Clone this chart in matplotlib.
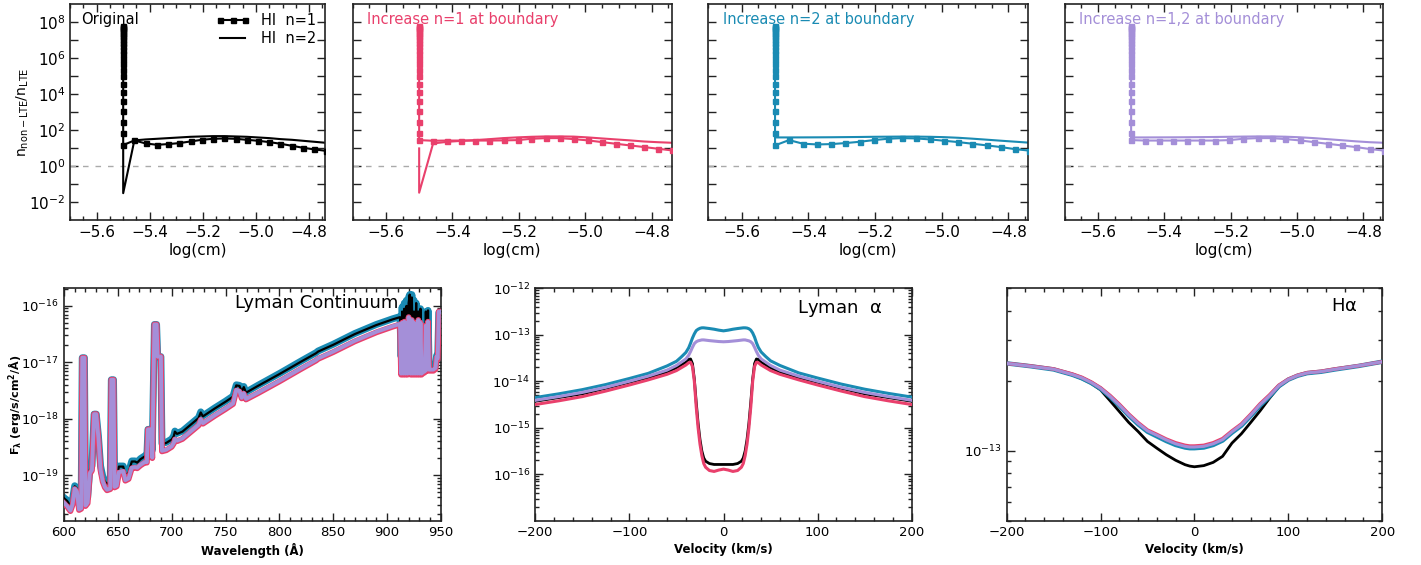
import numpy as np
import matplotlib
matplotlib.use("Agg")
import matplotlib.pyplot as plt
from matplotlib.ticker import FixedLocator, FuncFormatter, MultipleLocator, NullFormatter, LogLocator

plt.rcParams['font.family'] = ['DejaVu Sans']
plt.rcParams['mathtext.default'] = 'regular'

# ---------------- colours ----------------
C_ORIG = '#000000'
C_N1 = '#E9406C'
C_N2 = '#1A8BB3'
C_N12 = '#A48FD8'

# ---------------- top row data: n_nonLTE / n_LTE ----------------
col_depth = -5.5
col_values = [5.9e7, 5.4e7, 4.8e7, 4.0e7, 3.2e7, 2.5e7, 1.95e7, 1.45e7, 1.0e7, 7.0e6,
              4.6e6, 2.9e6, 1.7e6, 9.0e5, 4.8e5, 2.2e5, 9.5e4, 3.8e4, 1.3e4, 4.0e3,
              1.1e3, 280, 71]
depth = [-5.5, -5.458, -5.416, -5.373, -5.331, -5.289, -5.246, -5.204, -5.162, -5.119,
         -5.077, -5.035, -4.992, -4.95, -4.908, -4.865, -4.823, -4.781, -4.738]

orig_n1 = [14.5, 26.4, 18.0, 15.1, 16.5, 18.7, 23.2, 28.6, 32.5, 33.9,
           32.5, 28.6, 25.2, 21.3, 17.2, 13.3, 10.3, 8.4, 7.0]
orig_n2_start = [14.5, 0.031]
orig_n2 = [26.4, 29.9, 32.5, 35.4, 38.5, 42.0, 43.9, 45.7, 45.7, 43.9,
           42.0, 38.5, 35.4, 31.2, 28.6, 25.2, 22.2, 19.5]

inc1_n1 = [27.5, 25.3, 26.0, 26.0, 26.0, 26.0, 26.5, 27.5, 32.6, 35.5,
           35.5, 31.2, 26.5, 21.3, 17.2, 13.9, 11.3, 9.1, 7.3]
inc1_n2_start = [9.5, 0.033]
inc1_n2 = [18.0, 22.0, 25.0, 27.5, 31.0, 35.5, 39.0, 42.0, 44.0, 44.0,
           43.0, 38.7, 34.0, 30.0, 26.5, 23.0, 21.0, 19.5]

inc2_n1 = [14.0, 27.5, 17.3, 15.8, 16.5, 18.8, 22.2, 27.5, 32.6, 35.5,
           34.0, 30.0, 25.3, 21.3, 17.3, 14.0, 11.3, 8.7, 7.2]
inc2_n2 = [38.7, 38.7, 38.9, 39.2, 39.6, 40.3, 41.0, 42.0, 42.6, 43.2,
           43.0, 42.0, 40.0, 37.0, 33.0, 29.0, 25.5, 22.5, 19.8]

inc12_n1 = [27.5, 26.0, 26.0, 26.0, 26.0, 26.0, 26.0, 27.5, 32.6, 35.5,
            35.5, 31.2, 26.5, 21.3, 17.2, 13.9, 11.3, 8.8, 7.2]
inc12_n2 = [38.7, 38.7, 39.0, 39.3, 39.7, 40.3, 41.0, 42.0, 43.2, 44.0,
            44.0, 42.5, 39.5, 35.5, 31.0, 27.0, 23.5, 21.0, 19.5]

top_titles = ['Original', 'Increase n=1 at boundary', 'Increase n=2 at boundary',
              'Increase n=1,2 at boundary']

# ---------------- Lyman continuum ----------------
lyc_wave = [600, 603, 606, 608, 610, 612, 614, 616, 617, 619, 620, 622, 624, 626, 628, 630,
            632, 634, 636, 638, 640, 643, 644, 646, 647, 649, 651, 655, 657, 660, 663, 666,
            668, 671, 675, 677, 678, 681, 682, 684, 686, 687, 690, 691, 695, 700, 702, 703,
            705, 710, 720, 725, 727, 729, 740, 750, 757, 760, 763, 765, 767, 769, 780, 800,
            820, 834, 836, 850, 870, 890, 905, 912,
            913, 914, 915, 916, 917, 918, 919, 920, 921, 922, 923, 924, 925, 926, 927, 928,
            929, 930, 931, 932, 933, 935, 936, 937, 938, 939, 941, 943, 945, 946, 947, 948, 950]
lyc_log_orig = [-19.41, -19.46, -19.55, -19.44, -19.20, -19.24, -19.51, -19.50, -16.92, -16.92,
                -19.44, -19.41, -18.91, -18.85, -17.92, -17.92, -18.32, -18.85, -19.03, -19.12,
                -19.15, -19.15, -17.31, -17.31, -19.09, -19.08, -18.85, -18.85, -19.00, -18.96,
                -18.76, -18.76, -18.78, -18.72, -18.67, -18.67, -18.19, -18.19, -18.57, -16.33,
                -16.33, -16.90, -16.90, -18.45, -18.43, -18.37, -18.31, -18.23, -18.27, -18.23,
                -18.07, -17.99, -17.89, -17.96, -17.82, -17.70, -17.61, -17.41, -17.42, -17.52,
                -17.44, -17.54, -17.42, -17.21, -16.99, -16.84, -16.81, -16.69, -16.50, -16.34,
                -16.24, -16.20,
                -17.00, -16.10, -17.10, -16.05, -17.10, -16.00, -17.10, -15.95, -15.80, -17.10,
                -15.85, -17.10, -16.10, -17.20, -15.95, -17.20, -16.10, -17.20, -16.05, -17.20,
                -17.15, -17.15, -16.10, -17.15, -16.08, -17.15, -17.15, -17.10, -17.10, -16.90,
                -16.95, -16.10, -16.10]
lyc_log_n2 = [-19.40, -19.45, -19.54, -19.43, -19.19, -19.23, -19.50, -19.49, -16.92, -16.92,
              -19.43, -19.40, -18.90, -18.84, -17.92, -17.92, -18.31, -18.84, -19.02, -19.11,
              -19.14, -19.14, -17.31, -17.31, -19.08, -19.07, -18.84, -18.84, -18.99, -18.95,
              -18.75, -18.75, -18.77, -18.71, -18.66, -18.66, -18.19, -18.19, -18.56, -16.33,
              -16.33, -16.90, -16.90, -18.44, -18.42, -18.36, -18.30, -18.22, -18.26, -18.22,
              -18.06, -17.98, -17.88, -17.95, -17.81, -17.69, -17.60, -17.40, -17.41, -17.51,
              -17.43, -17.53, -17.41, -17.20, -16.98, -16.83, -16.80, -16.68, -16.49, -16.33,
              -16.23, -16.19,
              -16.90, -16.02, -16.90, -15.95, -16.90, -15.90, -16.95, -15.85, -15.80, -16.95,
              -15.80, -17.00, -15.90, -17.10, -15.95, -17.15, -16.10, -17.15, -16.05, -17.15,
              -17.10, -17.10, -16.10, -17.10, -16.08, -17.10, -17.10, -17.05, -17.05, -16.88,
              -16.92, -16.12, -16.12]
lyc_log_n1 = [-19.50, -19.56, -19.64, -19.53, -19.25, -19.30, -19.62, -19.60, -16.92, -16.92,
              -19.55, -19.50, -18.98, -18.92, -17.92, -17.92, -18.35, -18.92, -19.12, -19.22,
              -19.27, -19.25, -17.31, -17.31, -19.22, -19.20, -18.96, -18.94, -19.10, -19.07,
              -18.88, -18.87, -18.88, -18.83, -18.78, -18.78, -18.19, -18.19, -18.70, -16.33,
              -16.33, -16.90, -16.90, -18.58, -18.56, -18.50, -18.44, -18.37, -18.40, -18.36,
              -18.20, -18.12, -18.02, -18.09, -17.95, -17.83, -17.74, -17.50, -17.52, -17.64,
              -17.56, -17.66, -17.55, -17.34, -17.12, -16.97, -16.94, -16.82, -16.63, -16.47,
              -16.37, -16.33,
              -17.22, -16.30, -17.22, -16.28, -17.22, -16.30, -17.22, -16.20, -16.35, -17.22,
              -16.25, -17.22, -16.30, -17.22, -16.40, -17.22, -16.25, -17.22, -16.30, -17.22,
              -17.20, -17.18, -16.35, -17.15, -16.28, -17.15, -17.15, -17.15, -17.12, -16.92,
              -16.95, -16.10, -16.10]
lyc_log_n12 = [-19.49, -19.55, -19.63, -19.52, -19.24, -19.29, -19.61, -19.59, -16.92, -16.92,
               -19.54, -19.49, -18.97, -18.91, -17.92, -17.92, -18.34, -18.91, -19.11, -19.21,
               -19.26, -19.24, -17.31, -17.31, -19.21, -19.19, -18.95, -18.93, -19.09, -19.06,
               -18.87, -18.86, -18.87, -18.82, -18.77, -18.77, -18.19, -18.19, -18.69, -16.33,
               -16.33, -16.90, -16.90, -18.57, -18.55, -18.49, -18.43, -18.36, -18.39, -18.35,
               -18.19, -18.11, -18.01, -18.08, -17.94, -17.82, -17.73, -17.49, -17.51, -17.63,
               -17.55, -17.65, -17.54, -17.33, -17.11, -16.96, -16.93, -16.81, -16.62, -16.46,
               -16.36, -16.32,
               -17.20, -16.30, -17.20, -16.28, -17.20, -16.30, -17.20, -16.20, -16.35, -17.20,
               -16.25, -17.20, -16.30, -17.20, -16.40, -17.20, -16.25, -17.20, -16.30, -17.20,
               -17.18, -17.16, -16.35, -17.13, -16.28, -17.13, -17.13, -17.13, -17.10, -16.90,
               -16.93, -16.10, -16.10]

# ---------------- Lyman alpha ----------------
lya_vel = [-200, -175, -150, -125, -100, -80, -60, -50, -45, -40, -37, -35, -33, -31, -29, -27,
           -25, -23, -21, -19, -15, -10, -5, 0, 5, 10, 15, 19, 21, 23, 25, 27, 29, 31, 33, 35,
           37, 40, 45, 50, 60, 80, 100, 125, 150, 175, 200]
lya_log_n2 = [-14.35, -14.27, -14.18, -14.07, -13.94, -13.83, -13.67, -13.57, -13.48, -13.38,
              -13.28, -13.18, -13.07, -12.98, -12.91, -12.88, -12.86, -12.85, -12.85, -12.855,
              -12.865, -12.88, -12.90, -12.915, -12.90, -12.88, -12.865, -12.855, -12.85, -12.85,
              -12.855, -12.87, -12.90, -12.96, -13.05, -13.17, -13.27, -13.37, -13.47, -13.56,
              -13.66, -13.82, -13.93, -14.06, -14.17, -14.26, -14.34]
lya_log_n12 = [-14.41, -14.33, -14.24, -14.13, -14.00, -13.89, -13.76, -13.66, -13.59, -13.52,
               -13.44, -13.36, -13.27, -13.19, -13.15, -13.13, -13.12, -13.11, -13.11, -13.115,
               -13.125, -13.135, -13.145, -13.15, -13.145, -13.135, -13.125, -13.115, -13.11,
               -13.11, -13.12, -13.13, -13.15, -13.19, -13.27, -13.36, -13.44, -13.52, -13.59,
               -13.66, -13.76, -13.89, -14.00, -14.13, -14.24, -14.33, -14.41]
lya_log_orig = [-14.43, -14.35, -14.27, -14.15, -14.02, -13.92, -13.80, -13.71, -13.65, -13.59,
                -13.53, -13.52, -13.62, -13.95, -14.45, -14.90, -15.25, -15.50, -15.65, -15.72,
                -15.77, -15.79, -15.79, -15.79, -15.79, -15.79, -15.77, -15.72, -15.65, -15.50,
                -15.25, -14.90, -14.45, -13.95, -13.62, -13.52, -13.53, -13.59, -13.65, -13.71,
                -13.80, -13.92, -14.02, -14.15, -14.27, -14.35, -14.43]
lya_log_n1 = [-14.50, -14.42, -14.33, -14.21, -14.08, -13.97, -13.85, -13.77, -13.71, -13.65,
              -13.60, -13.59, -13.68, -14.00, -14.55, -15.00, -15.35, -15.60, -15.77, -15.85,
              -15.92, -15.94, -15.91, -15.89, -15.91, -15.94, -15.92, -15.85, -15.77, -15.60,
              -15.35, -15.00, -14.55, -14.00, -13.68, -13.59, -13.60, -13.65, -13.71, -13.77,
              -13.85, -13.97, -14.08, -14.21, -14.33, -14.42, -14.50]

# ---------------- H alpha ----------------
ha_vel = [-200, -175, -150, -130, -120, -110, -100, -90, -80, -70, -60, -50, -40, -30, -20, -10,
          -5, 0, 10, 20, 30, 40, 50, 60, 70, 80, 90, 100, 110, 120, 135, 150, 175, 200]
ha_log_orig = [-12.624, -12.636, -12.650, -12.674, -12.690, -12.710, -12.738, -12.784, -12.831,
               -12.878, -12.917, -12.960, -12.989, -13.017, -13.041, -13.060, -13.066, -13.069,
               -13.064, -13.050, -13.024, -12.967, -12.927, -12.878, -12.828, -12.774, -12.724,
               -12.695, -12.677, -12.667, -12.660, -12.650, -12.635, -12.617]
ha_log_n1 = [-12.624, -12.635, -12.648, -12.670, -12.684, -12.704, -12.729, -12.762, -12.800,
             -12.842, -12.879, -12.911, -12.930, -12.950, -12.966, -12.977, -12.980, -12.980,
             -12.977, -12.966, -12.948, -12.915, -12.885, -12.843, -12.798, -12.760, -12.718,
             -12.692, -12.675, -12.664, -12.658, -12.648, -12.634, -12.617]
ha_log_n2 = [-12.624, -12.636, -12.650, -12.673, -12.688, -12.708, -12.733, -12.767, -12.806,
             -12.848, -12.886, -12.918, -12.938, -12.958, -12.975, -12.986, -12.989, -12.989,
             -12.986, -12.975, -12.956, -12.922, -12.892, -12.850, -12.805, -12.766, -12.722,
             -12.694, -12.677, -12.666, -12.660, -12.650, -12.635, -12.617]
ha_log_n12 = [-12.624, -12.636, -12.649, -12.672, -12.686, -12.706, -12.731, -12.765, -12.803,
              -12.845, -12.882, -12.914, -12.933, -12.953, -12.970, -12.981, -12.984, -12.984,
              -12.981, -12.970, -12.952, -12.918, -12.888, -12.846, -12.801, -12.763, -12.720,
              -12.693, -12.676, -12.665, -12.659, -12.649, -12.634, -12.617]

# ================= figure =================
fig = plt.figure(figsize=(14.21, 5.65), dpi=100)

def style_axes(ax, labelsize):
    ax.tick_params(which='both', direction='in', top=True, right=True, labelsize=labelsize,
                   width=1.0, colors='#222222', labelcolor='black')
    ax.tick_params(which='major', length=6)
    ax.tick_params(which='minor', length=3)
    for s in ax.spines.values():
        s.set_linewidth(1.2)
        s.set_color('#222222')

top_pos = [(0.0493, 0.1795), (0.2482, 0.2245), (0.4985, 0.2252), (0.7493, 0.2242)]
top_bottom, top_height = 0.6106, 0.3823

panels = [
    (orig_n1, C_ORIG, 'orig'),
    (inc1_n1, C_N1, 'inc1'),
    (inc2_n1, C_N2, 'inc2'),
    (inc12_n1, C_N12, 'inc12'),
]

dec_ticks = [10.0 ** k for k in range(-2, 9)]

def even_fmt(v, pos):
    k = int(round(np.log10(v)))
    if k % 2 == 0:
        return r'$10^{%d}$' % k
    return ''

for i, (left, width) in enumerate(top_pos):
    ax = fig.add_axes([left, top_bottom, width, top_height])
    n1, col, key = panels[i]
    col_x = np.full(len(col_values), col_depth)
    x1 = np.concatenate([col_x, depth])
    y1 = np.concatenate([col_values, n1])
    ax.axhline(1.0, color='#aaaaaa', lw=1.0, ls=(0, (4, 5)))
    ax.plot(x1, y1, color=col, lw=1.5, marker='s', ms=3.6, mec=col, mfc=col, zorder=3)
    if key == 'orig':
        x2 = [col_depth] * len(orig_n2_start) + depth[1:]
        y2 = orig_n2_start + orig_n2
    elif key == 'inc1':
        x2 = [col_depth] * len(inc1_n2_start) + depth[1:]
        y2 = inc1_n2_start + inc1_n2
    elif key == 'inc2':
        x2 = depth
        y2 = inc2_n2
    else:
        x2 = depth
        y2 = inc12_n2
    ax.plot(x2, y2, color=col, lw=1.5, zorder=2)
    ax.set_yscale('log')
    ax.set_xlim(-5.7, -4.74)
    ax.set_ylim(1e-3, 1e9)
    ax.yaxis.set_major_locator(FixedLocator(dec_ticks))
    ax.yaxis.set_minor_locator(FixedLocator([]))
    ax.yaxis.set_major_formatter(FuncFormatter(even_fmt))
    ax.xaxis.set_major_locator(FixedLocator([-5.6, -5.4, -5.2, -5.0, -4.8]))
    ax.xaxis.set_minor_locator(MultipleLocator(0.05))
    ax.xaxis.set_major_formatter(FuncFormatter(lambda v, p: ('%.1f' % v).replace('-', '\u2212')))
    style_axes(ax, 11)
    ax.set_xlabel('log(cm)', fontsize=11, labelpad=2)
    if i > 0:
        ax.set_yticklabels([])
    else:
        ax.set_ylabel(r'$n_{non-LTE}/n_{LTE}$', fontsize=10)
        ax.yaxis.set_label_coords(-0.155, 0.5)
    ax.text(0.045, 0.965, top_titles[i], transform=ax.transAxes, ha='left', va='top',
            fontsize=10.5, color=col)
    if i == 0:
        ax.plot([], [], color='k', lw=1.5, marker='s', ms=3.6, label='HI  n=1')
        ax.plot([], [], color='k', lw=1.5, label='HI  n=2')
        ax.legend(loc='upper right', frameon=False, fontsize=10.5, handlelength=2.3,
                  numpoints=3, borderaxespad=0.2, labelspacing=0.25, handletextpad=0.8)

# ---------------- bottom row ----------------
bot_bottom, bot_height = 0.0784, 0.4113

def log_minor(ax):
    ax.yaxis.set_minor_locator(LogLocator(base=10, subs=np.arange(2, 10), numticks=50))
    ax.yaxis.set_minor_formatter(NullFormatter())

# Lyman continuum
ax = fig.add_axes([0.0450, bot_bottom, 0.2653, bot_height])
w = np.array(lyc_wave)
ax.plot(w, 10.0 ** np.array(lyc_log_n2), color=C_N2, lw=5.0, zorder=2)
ax.plot(w, 10.0 ** np.array(lyc_log_orig), color=C_ORIG, lw=1.6, zorder=3)
ax.plot(w, 10.0 ** np.array(lyc_log_n1), color=C_N1, lw=4.2, zorder=4)
ax.plot(w, 10.0 ** np.array(lyc_log_n12), color=C_N12, lw=2.8, zorder=5)
ax.set_yscale('log')
ax.set_xlim(600, 950)
ax.set_ylim(1.55e-20, 2.05e-16)
ax.xaxis.set_major_locator(MultipleLocator(50))
ax.xaxis.set_minor_locator(MultipleLocator(10))
log_minor(ax)
ax.yaxis.set_major_locator(FixedLocator([1e-19, 1e-18, 1e-17, 1e-16]))
style_axes(ax, 9.5)
ax.set_xlabel('Wavelength (Å)', fontsize=8.5, fontweight='bold', labelpad=3)
ax.set_ylabel('F$_\\lambda$ (erg/s/cm$^2$/Å)', fontsize=8, fontweight='bold')
ax.yaxis.set_label_coords(-0.105, 0.5)
ax.text(0.887, 0.935, 'Lyman Continuum', transform=ax.transAxes, ha='right', va='center',
        fontsize=13)

# Lyman alpha
ax = fig.add_axes([0.3767, bot_bottom, 0.2649, bot_height])
v = np.array(lya_vel)
ax.plot(v, 10.0 ** np.array(lya_log_orig), color=C_ORIG, lw=2.0, zorder=2)
ax.plot(v, 10.0 ** np.array(lya_log_n2), color=C_N2, lw=2.2, zorder=3)
ax.plot(v, 10.0 ** np.array(lya_log_n12), color=C_N12, lw=2.2, zorder=4)
ax.plot(v, 10.0 ** np.array(lya_log_n1), color=C_N1, lw=2.2, zorder=5)
ax.set_yscale('log')
ax.set_xlim(-200, 200)
ax.set_ylim(1e-17, 1e-12)
ax.xaxis.set_major_locator(FixedLocator([-200, -100, 0, 100, 200]))
ax.xaxis.set_minor_locator(MultipleLocator(20))
log_minor(ax)
ax.yaxis.set_major_locator(FixedLocator([1e-16, 1e-15, 1e-14, 1e-13, 1e-12]))
style_axes(ax, 9.5)
ax.xaxis.set_major_formatter(FuncFormatter(lambda val, p: ('%d' % val).replace('-', '\u2212')))
ax.set_xlabel('Velocity (km/s)', fontsize=8.5, fontweight='bold', labelpad=3)
ax.text(0.92, 0.915, r'Lyman  $\alpha$', transform=ax.transAxes, ha='right', va='center',
        fontsize=13)

# H alpha
ax = fig.add_axes([0.7084, bot_bottom, 0.2643, bot_height])
hv = np.array(ha_vel)
ax.plot(hv, 10.0 ** np.array(ha_log_orig), color=C_ORIG, lw=2.0, zorder=2)
ax.plot(hv, 10.0 ** np.array(ha_log_n2), color=C_N2, lw=3.2, zorder=3)
ax.plot(hv, 10.0 ** np.array(ha_log_n1), color=C_N1, lw=2.6, zorder=4)
ax.plot(hv, 10.0 ** np.array(ha_log_n12), color=C_N12, lw=2.2, zorder=5)
ax.set_yscale('log')
ax.set_xlim(-200, 200)
ax.set_ylim(5e-14, 5e-13)
ax.xaxis.set_major_locator(FixedLocator([-200, -100, 0, 100, 200]))
ax.xaxis.set_minor_locator(MultipleLocator(20))
ax.yaxis.set_major_locator(FixedLocator([1e-13]))
log_minor(ax)
style_axes(ax, 9.5)
ax.xaxis.set_major_formatter(FuncFormatter(lambda val, p: ('%d' % val).replace('-', '\u2212')))
ax.set_xlabel('Velocity (km/s)', fontsize=8.5, fontweight='bold', labelpad=3)
ax.text(0.935, 0.924, r'H$\alpha$', transform=ax.transAxes, ha='right', va='center',
        fontsize=13)

fig.savefig('out.png', dpi=100)
